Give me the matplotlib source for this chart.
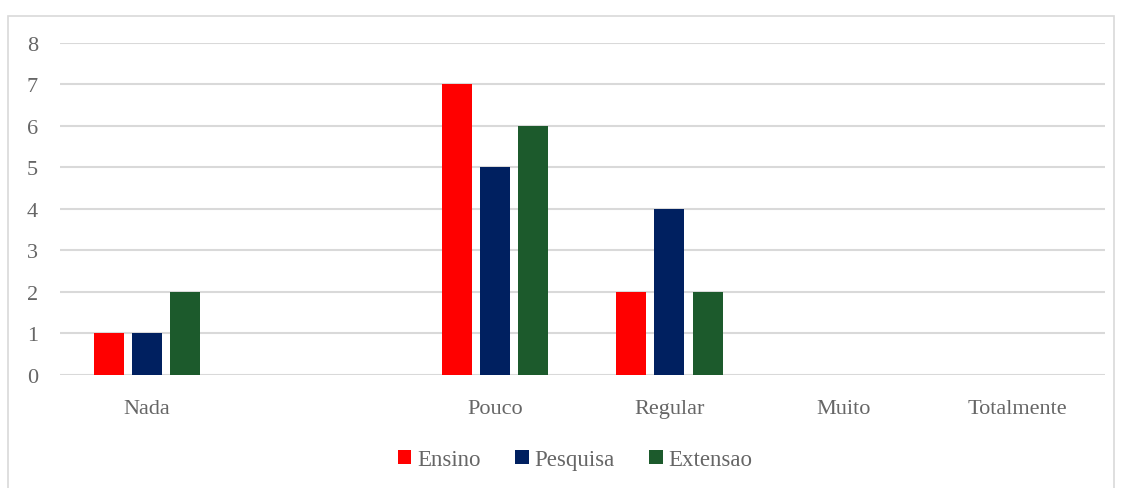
import matplotlib.pyplot as plt
import numpy as np
from matplotlib.patches import Rectangle

categorias = ["Nada", "", "Pouco", "Regular", "Muito", "Totalmente"]
ensino = [1, 0, 7, 2, 0, 0]
pesquisa = [1, 0, 5, 4, 0, 0]
extensao = [2, 0, 6, 2, 0, 0]
series = ["Ensino", "Pesquisa", "Extensao"]
cores = ["#FF0000", "#002060", "#1C5A2C"]

plt.rcParams['font.family'] = ['Liberation Serif', 'DejaVu Serif']
texto = "#666666"

fig = plt.figure(figsize=(11.21, 4.89), dpi=100)
ax = fig.add_axes([0.0535, 0.2311, 0.932, 0.679])

x = np.arange(len(categorias))
w = 0.172
passo = 0.219
for i, (vals, nome, cor) in enumerate(zip([ensino, pesquisa, extensao], series, cores)):
    ax.bar(x + (i - 1) * passo, vals, width=w, color=cor, label=nome, zorder=3)

ax.set_xlim(-0.5, len(categorias) - 0.5)
ax.set_ylim(0, 8)
ax.set_yticks(range(0, 9))
ax.set_xticks(x)
ax.set_xticklabels(categorias, fontsize=17)
ax.grid(axis='y', color='#D9D9D9', linewidth=1.5, zorder=0)
for s in ax.spines.values():
    s.set_visible(False)
ax.tick_params(length=0, labelsize=16, colors=texto)
ax.tick_params(axis='y', pad=16)
ax.tick_params(axis='x', pad=17)

leg = fig.legend(loc='center', bbox_to_anchor=(0.513, 0.058), ncol=3, frameon=False,
                 fontsize=16.5, handlelength=0.6, handleheight=0.6, handletextpad=0.25,
                 columnspacing=1.5)
for t in leg.get_texts():
    t.set_color(texto)

fig.patches.append(Rectangle((8 / 1121, -0.1), 1106 / 1121, 1 - 17 / 489 + 0.1,
                             transform=fig.transFigure, fill=False,
                             edgecolor='#D9D9D9', linewidth=1.2))

fig.savefig("out.png", dpi=100)
